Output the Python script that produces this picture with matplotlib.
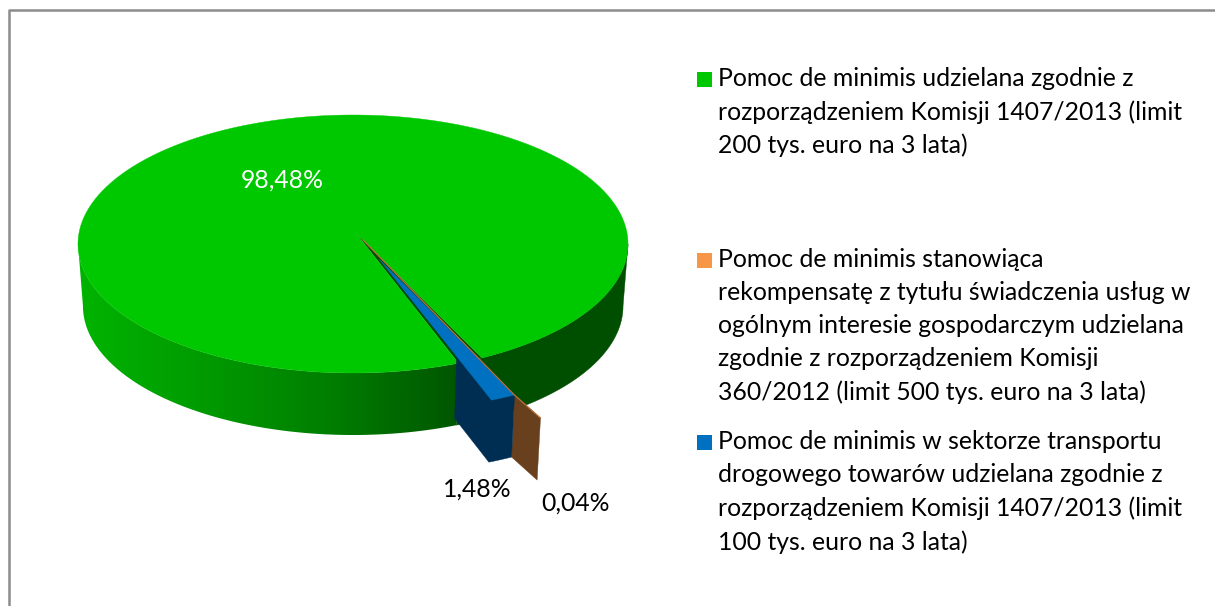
import numpy as np
import matplotlib
matplotlib.use("Agg")
import matplotlib.pyplot as plt
from matplotlib.colors import LinearSegmentedColormap
from matplotlib.patches import Polygon, Rectangle

# shares in percent, counter clockwise from the start angle
values = [98.48, 1.48, 0.04]
value_labels = ["98,48%", "1,48%", "0,04%"]
legend_labels = [
    "Pomoc de minimis udzielana zgodnie z\nrozporządzeniem Komisji 1407/2013 (limit\n200 tys. euro na 3 lata)",
    "Pomoc de minimis w sektorze transportu\ndrogowego towarów udzielana zgodnie z\nrozporządzeniem Komisji 1407/2013 (limit\n100 tys. euro na 3 lata)",
    "Pomoc de minimis stanowiąca\nrekompensatę z tytułu świadczenia usług w\nogólnym interesie gospodarczym udzielana\nzgodnie z rozporządzeniem Komisji\n360/2012 (limit 500 tys. euro na 3 lata)",
]

GREEN = "#00c800"
GREEN_DARK = "#004e00"
BLUE = "#0070c0"
BLUE_DARK = "#002e52"
ORANGE = "#f79646"
BROWN = "#69401e"

# pie geometry in pixels
CX, CY = 353, 244
RX, RY = 275, 129
APEX = np.array([355, 232])
DEPTH = 62
TAPER = 0.982
START = -62


def rim(deg, off=(0, 0)):
    t = np.radians(deg)
    return np.column_stack([CX + RX * np.cos(t) + off[0], CY - RY * np.sin(t) + off[1]])


def drop(pts):
    # same points on the lower edge of the pie
    pts = np.atleast_2d(pts)
    return np.column_stack([CX + (pts[:, 0] - CX) * TAPER, pts[:, 1] + DEPTH])


fig = plt.figure(figsize=(12.15, 6.06), dpi=100)
ax = fig.add_axes([0, 0, 1, 1])

sweeps = np.array(values) / sum(values) * 360
green_end = START + sweeps[0]
blue_end = green_end + sweeps[1]

# side of the green slice: gradient on the left part, flat on the right
top = rim(np.linspace(180, green_end, 200))
left_wall = Polygon(np.vstack([top, drop(top)[::-1]]), closed=True, fc="none", ec="none", transform=ax.transData)
ax.add_patch(left_wall)
cmap = LinearSegmentedColormap.from_list("wall", ["#00b400", "#009a00", "#007e00", "#005600"])
grad = ax.imshow(np.linspace(0, 1, 400)[None, :], cmap=cmap, aspect="auto", extent=(78, 458, 440, 240), zorder=2,
                 interpolation="bilinear")
grad.set_clip_path(left_wall)

top = rim(np.linspace(green_end - 360, 0, 200))
ax.add_patch(Polygon(np.vstack([top, drop(top)[::-1]]), closed=True, fc=GREEN_DARK, ec=GREEN_DARK, lw=0.3, zorder=2))

# green top
arc = rim(np.linspace(START, green_end, 500))
ax.add_patch(Polygon(np.vstack([APEX, arc]), closed=True, fc=GREEN, ec=GREEN, lw=0.3, zorder=3))

# inside of the gap, seen as a dark sliver
gap = rim(np.array([green_end, START]))
ax.add_patch(Polygon(np.vstack([APEX, gap]), closed=True, fc=GREEN_DARK, ec="none", zorder=2.5))

# blue slice, pulled out
blue_off = (33, 37)
blue_apex = APEX + (24, 27)
blue_arc = rim(np.linspace(green_end, blue_end, 12), blue_off)
inner = blue_apex + (blue_arc[0] - blue_apex) * 0.69
upper = np.vstack([inner, blue_arc])
ax.add_patch(Polygon(np.vstack([upper, drop(upper)[::-1]]), closed=True, fc=BLUE_DARK, ec=BLUE_DARK, lw=0.3, zorder=5))
ax.add_patch(Polygon(np.vstack([blue_apex, blue_arc]), closed=True, fc=BLUE, ec=BLUE, lw=0.2, zorder=6))

# orange slice, pulled out further, only its wall shows past the blue one
brown_off = (59, 60)
b_edge = rim(np.array([blue_end]), brown_off)[0]
wall = np.array([blue_arc[-1], b_edge])
ax.add_patch(Polygon(np.vstack([wall, drop(wall)[::-1]]), closed=True, fc=BROWN, ec=BROWN, lw=0.3, zorder=4))
ax.plot([APEX[0] + 8, blue_arc[-1][0], b_edge[0]], [APEX[1] + 8, blue_arc[-1][1], b_edge[1]],
        color="#b8703a", lw=0.9, zorder=6.5)

# frame
ax.plot([9, 9, 1215], [606, 10, 10], color="#8c8c8c", lw=1.8, solid_capstyle="butt", zorder=1)

# value labels
font = "Lato"
fs = 17.8
ax.text(282, 180, value_labels[0], color="white", family=font, size=fs, ha="center", va="center", zorder=7)
ax.text(477, 489, value_labels[1], color="black", family=font, size=fs, ha="center", va="center", zorder=7)
ax.text(575, 503, value_labels[2], color="black", family=font, size=fs, ha="center", va="center", zorder=7)

# legend
for label, color, y_box, y_text in [
    (legend_labels[0], GREEN, 72, 112),
    (legend_labels[2], ORANGE, 253, 326),
    (legend_labels[1], BLUE, 435, 492),
]:
    ax.add_patch(Rectangle((697, y_box), 15, 15, fc=color, ec="none"))
    ax.text(718, y_text, label, color="black", family=font, size=fs, ha="left", va="center",
            linespacing=1.52, zorder=7)

ax.set_xlim(0, 1215)
ax.set_ylim(606, 0)
ax.axis("off")

plt.savefig("out.png", dpi=100)
